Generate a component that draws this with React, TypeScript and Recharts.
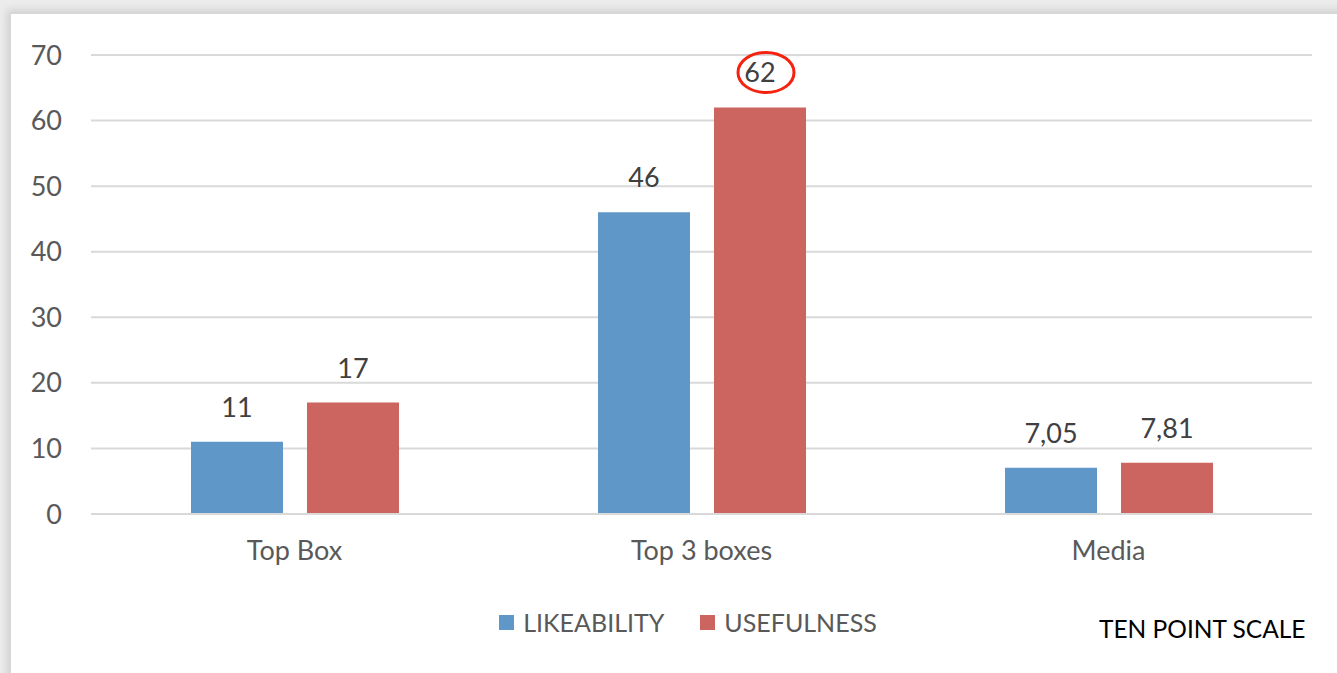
import React from "react";
import { BarChart, Bar, XAxis, YAxis, CartesianGrid, Legend, LabelList } from "recharts";

const categories = ["Top Box", "Top 3 boxes", "Media"];
const likeability = [11, 46, 7.05];
const usefulness = [17, 62, 7.81];
const yTicks = [0, 10, 20, 30, 40, 50, 60, 70];
const seriesNames = ["LIKEABILITY", "USEFULNESS"];
const noteText = "TEN POINT SCALE";

const BLUE = "#6097c9";
const RED = "#cc655f";
const FONT = "Lato, 'Open Sans', sans-serif";

const data = categories.map((c, i) => ({ name: c, like: likeability[i], use: usefulness[i] }));
const maxUse = Math.max(...usefulness);

const fmt = (v: number) => String(v).replace(".", ",");

const makeLabel = (highlight: boolean) => (props: any) => {
  const { x, y, width, value } = props;
  const cx = x + width / 2;
  const ty = y - 25;
  return (
    <g>
      {highlight && value === maxUse ? (
        <ellipse cx={cx + 6} cy={ty - 10} rx={28} ry={20} fill="none" stroke="#f5220f" strokeWidth={3} />
      ) : null}
      <text x={cx} y={ty} textAnchor="middle" fill="#404040" fontSize={27} fontFamily={FONT}>
        {fmt(value)}
      </text>
    </g>
  );
};

const LegendContent = () => (
  <div style={{ display: "flex", justifyContent: "center", alignItems: "center", height: 30, paddingLeft: 54, fontFamily: FONT, fontSize: 25, color: "#595959" }}>
    {seriesNames.map((n, i) => (
      <div key={n} style={{ display: "flex", alignItems: "center", marginRight: i === 0 ? 36 : 0 }}>
        <div style={{ width: 15, height: 15, background: i === 0 ? BLUE : RED, marginRight: 9 }} />
        <span>{n}</span>
      </div>
    ))}
  </div>
);

export default function App() {
  return (
    <div style={{ position: "absolute", left: 0, top: 0, width: 1337, height: 673, background: "#ececec", overflow: "hidden" }}>
      <div style={{ position: "absolute", left: 10, top: 13, width: 1340, height: 670, background: "#ffffff", borderLeft: "1px solid #d8d8d8", borderTop: "1px solid #d8d8d8", boxShadow: "-3px -3px 8px rgba(0,0,0,0.12)" }} />
      <div style={{ position: "absolute", left: 10, top: 13 }}>
        <BarChart
          width={1327}
          height={660}
          data={data}
          margin={{ top: 42, right: 25, left: 0, bottom: 69 }}
          barSize={92}
          barGap={24}
        >
          <CartesianGrid vertical={false} stroke="#d9d9d9" strokeWidth={2} />
          <XAxis
            dataKey="name"
            height={60}
            axisLine={{ stroke: "#d9d9d9", strokeWidth: 2 }}
            tickLine={false}
            tick={{ fill: "#595959", fontSize: 27, fontFamily: FONT }}
            tickMargin={21}
          />
          <YAxis
            width={81}
            domain={[0, 70]}
            ticks={yTicks}
            axisLine={false}
            tickLine={false}
            tick={{ fill: "#595959", fontSize: 27, fontFamily: FONT }}
            tickMargin={23}
            interval={0}
          />
          <Legend verticalAlign="bottom" content={LegendContent} wrapperStyle={{ top: 594, height: 30 }} />
          <Bar dataKey="like" name={seriesNames[0]} fill={BLUE} isAnimationActive={false}>
            <LabelList dataKey="like" content={makeLabel(false)} />
          </Bar>
          <Bar dataKey="use" name={seriesNames[1]} fill={RED} isAnimationActive={false}>
            <LabelList dataKey="use" content={makeLabel(true)} />
          </Bar>
        </BarChart>
      </div>
      <div style={{ position: "absolute", left: 1099, top: 614, fontFamily: FONT, fontSize: 24.5, color: "#000000", whiteSpace: "nowrap" }}>
        {noteText}
      </div>
    </div>
  );
}
